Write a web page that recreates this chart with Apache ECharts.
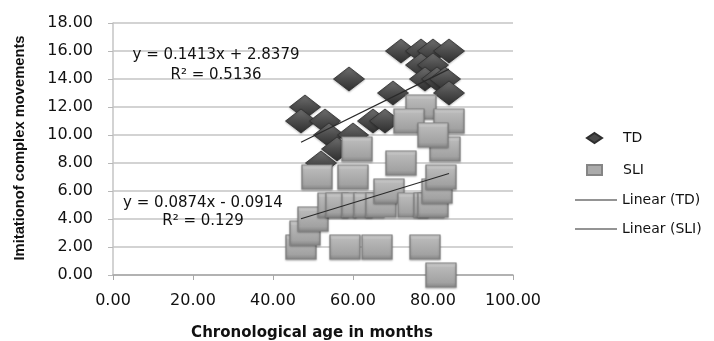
<!DOCTYPE html>
<html>
<head>
<meta charset="utf-8">
<script src="https://cdn.jsdelivr.net/npm/echarts@6/dist/echarts.min.js"></script>
<style>
  html, body { margin: 0; padding: 0; background: #fff; }
  #chart { width: 714px; height: 341px; }
</style>
</head>
<body>
<div id="chart"></div>
<script>
// Typically developing children: [age in months, score]
const tdPoints = [
  [72, 16], [77, 16], [80, 16], [84, 16],
  [77, 15], [80, 15],
  [78, 14], [81, 14], [83, 14], [59, 14],
  [70, 13], [84, 13],
  [48, 12],
  [47, 11], [53, 11], [65, 11], [68, 11],
  [54, 10], [60, 10],
  [56, 9], [52, 8]
];
// Children with SLI: [age in months, score]
const sliPoints = [
  [47, 2], [58, 2], [66, 2], [78, 2], [82, 0],
  [48, 3], [50, 4],
  [51, 7], [60, 7], [61, 9],
  [55, 5], [57, 5], [61, 5], [64, 5], [67, 5], [69, 6],
  [72, 8], [75, 5], [79, 5], [80, 5], [81, 6], [82, 7],
  [77, 12], [74, 11], [84, 11], [83, 9], [80, 10]
];
// Fitted trend lines: slope, intercept, R²
const tdFit = { slope: 0.1413, intercept: 2.8379, r2: '0.5136' };
const sliFit = { slope: 0.0874, intercept: -0.0914, r2: '0.129' };

const xTicks = [0, 20, 40, 60, 80, 100];
const yTicks = [0, 2, 4, 6, 8, 10, 12, 14, 16, 18];

function fitLine(points, fit) {
  const xs = points.map(p => p[0]);
  const lo = Math.min(...xs), hi = Math.max(...xs);
  return [[lo, fit.slope * lo + fit.intercept], [hi, fit.slope * hi + fit.intercept]];
}
function eqText(fit) {
  const sign = fit.intercept < 0 ? '- ' : '+ ';
  return 'y = ' + fit.slope + 'x ' + sign + Math.abs(fit.intercept) + '\nR² = ' + fit.r2;
}

const FONT = 'DejaVu Sans';
const yTitle = 'Imitationof complex movements';
const yTitleFont = 'bold 15px "Liberation Sans"';
// squeeze the y title into a condensed look
const measure = document.createElement('canvas').getContext('2d');
measure.font = yTitleFont;
const yTitleScale = 225 / measure.measureText(yTitle).width;

const diamondFill = new echarts.graphic.LinearGradient(0, 0, 0, 1, [
  { offset: 0, color: '#707070' }, { offset: 0.5, color: '#4c4c4c' }, { offset: 1, color: '#2e2e2e' }
]);
const squareFill = new echarts.graphic.LinearGradient(0, 0, 0, 1, [
  { offset: 0, color: '#e2e2e2' }, { offset: 0.2, color: '#b8b8b8' },
  { offset: 0.8, color: '#a2a2a2' }, { offset: 1, color: '#868686' }
]);

const chart = echarts.init(document.getElementById('chart'), null, { renderer: 'canvas' });
chart.setOption({
  animation: false,
  backgroundColor: '#ffffff',
  grid: { left: 113, right: 201, top: 23, bottom: 66 },
  xAxis: {
    type: 'value', min: xTicks[0], max: xTicks[xTicks.length - 1], interval: 20,
    axisLine: { lineStyle: { color: '#a8a8a8', width: 1.5 } },
    axisTick: { show: true, length: 5, lineStyle: { color: '#a8a8a8' } },
    splitLine: { show: false },
    axisLabel: { margin: 18, color: '#111', fontFamily: FONT, fontSize: 16, formatter: v => v.toFixed(2) }
  },
  yAxis: {
    type: 'value', min: yTicks[0], max: yTicks[yTicks.length - 1], interval: 2,
    axisLine: { show: true, lineStyle: { color: '#c4c4c4', width: 1.5 } },
    axisTick: { show: true, length: 5, lineStyle: { color: '#b8b8b8' } },
    splitLine: { show: true, lineStyle: { color: '#c4c4c4', width: 1.5 } },
    axisLabel: { margin: 20, color: '#111', fontFamily: FONT, fontSize: 16, formatter: v => v.toFixed(2) }
  },
  legend: [
    {
      left: 586, top: 131, orient: 'vertical', itemGap: 18, padding: 0,
      itemWidth: 15, itemHeight: 10,
      textStyle: { fontFamily: FONT, fontSize: 14, color: '#111', padding: [0, 0, 0, 16] },
      data: [
        { name: 'TD', icon: 'diamond', itemStyle: { color: '#4a4a4a', opacity: 1 } },
        { name: 'SLI', icon: 'rect', itemStyle: { color: '#ababab', opacity: 1 } }
      ]
    },
    {
      left: 575, top: 193, orient: 'vertical', itemGap: 15, padding: 0,
      itemWidth: 42, itemHeight: 1.2,
      textStyle: { fontFamily: FONT, fontSize: 14, color: '#111' },
      data: [
        { name: 'Linear (TD)', icon: 'rect', itemStyle: { color: '#2a2a2a' } },
        { name: 'Linear (SLI)', icon: 'rect', itemStyle: { color: '#2a2a2a' } }
      ]
    }
  ],
  series: [
    {
      name: 'TD', type: 'scatter', data: tdPoints, z: 2,
      symbol: 'diamond', symbolSize: [31, 24],
      itemStyle: { color: diamondFill, opacity: 1, borderColor: '#2e2e2e', borderWidth: 0.8,
        shadowColor: 'rgba(0,0,0,0.25)', shadowBlur: 2, shadowOffsetY: 1 }
    },
    {
      name: 'SLI', type: 'scatter', data: sliPoints, z: 3,
      symbol: 'rect', symbolSize: [30, 24],
      itemStyle: { color: squareFill, opacity: 1, borderColor: '#858585', borderWidth: 1,
        shadowColor: 'rgba(0,0,0,0.3)', shadowBlur: 2, shadowOffsetY: 1 }
    },
    {
      name: 'Linear (TD)', type: 'line', data: fitLine(tdPoints, tdFit), z: 5,
      symbol: 'none', lineStyle: { color: '#2a2a2a', width: 1.2 }, itemStyle: { color: '#2a2a2a' }
    },
    {
      name: 'Linear (SLI)', type: 'line', data: fitLine(sliPoints, sliFit), z: 5,
      symbol: 'none', lineStyle: { color: '#2a2a2a', width: 1.2 }, itemStyle: { color: '#2a2a2a' }
    }
  ],
  graphic: [
    {
      type: 'text', z: 10,
      style: { text: eqText(tdFit), align: 'center', lineHeight: 20,
        fontFamily: FONT, fontSize: 15, fill: '#111' },
      position: [216, 45]
    },
    {
      type: 'text', z: 10,
      style: { text: eqText(sliFit), align: 'center', lineHeight: 18,
        fontFamily: FONT, fontSize: 15, fill: '#111' },
      position: [203, 194]
    },
    {
      type: 'text', z: 10, rotation: Math.PI / 2, scaleX: yTitleScale,
      style: { text: yTitle, align: 'center', verticalAlign: 'middle',
        font: yTitleFont, fill: '#111' },
      position: [20, 148]
    },
    {
      type: 'text', z: 10,
      style: { text: 'Chronological age in months', align: 'center', verticalAlign: 'middle',
        fontFamily: FONT, fontWeight: 'bold', fontSize: 15, fill: '#111' },
      position: [312, 333]
    }
  ]
});
</script>
</body>
</html>
